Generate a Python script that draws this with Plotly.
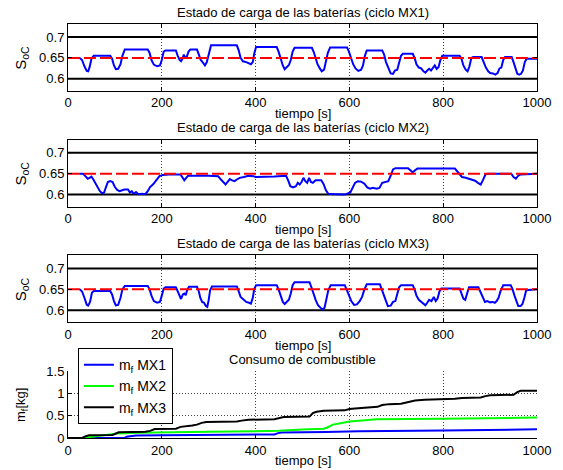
import plotly.graph_objects as go

# ---------------- data ----------------
t_mx1 = [25, 30, 35, 40, 43, 46, 50, 55, 90, 94, 98, 102, 107, 112, 116, 121, 170, 174, 178, 183, 190, 196, 200, 204, 208,
         230, 234, 238, 241, 244, 247, 250, 253, 257, 261, 275, 279, 283, 287, 292, 296, 300, 305, 360, 364, 368, 373, 380,
         385, 390, 394, 397, 401, 445, 449, 453, 458, 462, 466, 471, 475, 479, 483, 520, 524, 528, 532, 537, 541, 546, 550,
         554, 559, 595, 599, 603, 608, 613, 619, 625, 629, 633, 637, 670, 674, 678, 683, 688, 693, 697, 702, 706, 710, 714,
         735, 739, 743, 748, 753, 758, 762, 766, 770, 774, 778, 782, 786, 790, 794, 798, 835, 839, 843, 848, 852, 856, 860,
         864, 882, 886, 891, 896, 900, 906, 911, 916, 920, 924, 928, 932, 946, 950, 954, 958, 962, 966, 970, 974, 978, 1000]
soc_mx1 = [0.650, 0.645, 0.630, 0.619, 0.618, 0.628, 0.648, 0.655, 0.655, 0.648, 0.632, 0.623, 0.624, 0.635, 0.655, 0.670,
           0.670, 0.662, 0.645, 0.634, 0.630, 0.632, 0.645, 0.665, 0.668, 0.668, 0.655, 0.645, 0.642, 0.648, 0.658, 0.650,
           0.652, 0.665, 0.670, 0.670, 0.658, 0.645, 0.640, 0.632, 0.640, 0.660, 0.680, 0.680, 0.668, 0.650, 0.642, 0.640,
           0.638, 0.635, 0.640, 0.660, 0.676, 0.676, 0.665, 0.648, 0.632, 0.623, 0.628, 0.633, 0.645, 0.665, 0.674, 0.674,
           0.664, 0.650, 0.635, 0.625, 0.618, 0.622, 0.640, 0.662, 0.675, 0.675, 0.665, 0.650, 0.635, 0.625, 0.619, 0.622,
           0.632, 0.655, 0.668, 0.668, 0.658, 0.640, 0.625, 0.613, 0.612, 0.620, 0.622, 0.638, 0.655, 0.660, 0.660, 0.650,
           0.635, 0.627, 0.625, 0.618, 0.615, 0.620, 0.624, 0.620, 0.627, 0.632, 0.624, 0.628, 0.645, 0.655, 0.655, 0.648,
           0.632, 0.622, 0.618, 0.630, 0.650, 0.652, 0.652, 0.640, 0.627, 0.618, 0.614, 0.613, 0.610, 0.614, 0.625, 0.627,
           0.645, 0.652, 0.652, 0.640, 0.625, 0.612, 0.610, 0.612, 0.620, 0.640, 0.648, 0.648]

t_mx2 = [25, 32, 38, 42, 46, 50, 54, 58, 63, 68, 73, 77, 81, 85, 90, 95, 100, 105, 110, 115, 120, 128, 132, 136, 140, 145,
         150, 158, 165, 170, 175, 182, 188, 195, 202, 215, 240, 244, 248, 252, 256, 300, 320, 326, 332, 336, 340, 345, 350,
         355, 360, 366, 375, 385, 395, 400, 440, 465, 470, 474, 480, 486, 490, 494, 498, 502, 506, 510, 514, 518, 522, 528,
         540, 545, 550, 555, 570, 590, 602, 607, 612, 618, 625, 632, 638, 644, 650, 658, 664, 670, 676, 683, 688, 693, 698,
         725, 730, 735, 740, 745, 825, 830, 835, 840, 848, 855, 862, 868, 874, 880, 885, 890, 895, 945, 950, 955, 960, 965,
         1000]
soc_mx2 = [0.650, 0.650, 0.643, 0.638, 0.640, 0.643, 0.636, 0.628, 0.618, 0.608, 0.603, 0.605, 0.618, 0.630, 0.632, 0.630,
           0.618, 0.611, 0.608, 0.610, 0.612, 0.612, 0.605, 0.608, 0.602, 0.606, 0.601, 0.602, 0.601, 0.608, 0.618, 0.625,
           0.635, 0.644, 0.647, 0.648, 0.648, 0.640, 0.634, 0.640, 0.645, 0.645, 0.644, 0.636, 0.627, 0.624, 0.630, 0.637,
           0.634, 0.632, 0.636, 0.640, 0.642, 0.645, 0.644, 0.642, 0.643, 0.645, 0.632, 0.620, 0.617, 0.620, 0.628, 0.624,
           0.630, 0.640, 0.632, 0.628, 0.640, 0.630, 0.628, 0.634, 0.634, 0.625, 0.610, 0.602, 0.601, 0.600, 0.605, 0.615,
           0.628, 0.632, 0.631, 0.626, 0.617, 0.614, 0.616, 0.614, 0.616, 0.628, 0.630, 0.632, 0.645, 0.660, 0.663, 0.663,
           0.658, 0.653, 0.658, 0.662, 0.662, 0.655, 0.648, 0.642, 0.640, 0.638, 0.636, 0.633, 0.628, 0.624, 0.635, 0.648,
           0.650, 0.650, 0.642, 0.638, 0.645, 0.648, 0.650]

t_mx3 = [25, 30, 35, 40, 43, 47, 51, 55, 90, 94, 98, 102, 107, 112, 116, 121, 170, 174, 178, 183, 190, 196, 200, 204, 208,
         230, 234, 238, 241, 245, 248, 251, 254, 258, 275, 279, 282, 286, 290, 294, 297, 300, 303, 307, 360, 364, 368, 373,
         380, 386, 390, 394, 397, 401, 445, 449, 453, 458, 462, 466, 471, 475, 479, 483, 515, 519, 523, 528, 533, 538, 542,
         547, 551, 555, 560, 590, 594, 599, 604, 610, 616, 622, 627, 632, 637, 665, 669, 673, 678, 682, 688, 693, 698, 702,
         706, 710, 735, 739, 743, 748, 753, 758, 762, 766, 770, 775, 780, 784, 788, 792, 796, 835, 839, 843, 847, 851, 855,
         875, 879, 884, 889, 894, 900, 905, 910, 914, 918, 922, 928, 944, 948, 952, 956, 960, 965, 969, 973, 977, 1000]
soc_mx3 = [0.650, 0.645, 0.630, 0.613, 0.611, 0.620, 0.642, 0.646, 0.646, 0.638, 0.622, 0.612, 0.613, 0.630, 0.650, 0.658,
           0.658, 0.650, 0.635, 0.622, 0.618, 0.620, 0.635, 0.652, 0.655, 0.655, 0.645, 0.632, 0.627, 0.638, 0.640, 0.636,
           0.648, 0.656, 0.656, 0.645, 0.630, 0.620, 0.618, 0.610, 0.608, 0.625, 0.648, 0.657, 0.657, 0.645, 0.632, 0.627,
           0.620, 0.618, 0.616, 0.630, 0.650, 0.660, 0.660, 0.650, 0.635, 0.620, 0.615, 0.620, 0.625, 0.640, 0.660, 0.667,
           0.667, 0.655, 0.640, 0.625, 0.612, 0.605, 0.602, 0.606, 0.625, 0.648, 0.660, 0.660, 0.650, 0.635, 0.622, 0.613,
           0.614, 0.622, 0.632, 0.650, 0.662, 0.662, 0.650, 0.635, 0.620, 0.610, 0.611, 0.620, 0.622, 0.638, 0.655, 0.660,
           0.660, 0.650, 0.635, 0.625, 0.620, 0.615, 0.612, 0.618, 0.625, 0.622, 0.632, 0.622, 0.628, 0.645, 0.652, 0.652,
           0.640, 0.628, 0.625, 0.640, 0.655, 0.655, 0.645, 0.630, 0.620, 0.622, 0.619, 0.620, 0.618, 0.622, 0.630, 0.645,
           0.660, 0.660, 0.650, 0.635, 0.620, 0.610, 0.610, 0.615, 0.630, 0.648, 0.650]

soc_lower, soc_target, soc_upper = 0.6, 0.65, 0.7
t_span = [0, 1000]

t_f1 = [0, 120, 125, 135, 145, 200, 300, 440, 448, 455, 550, 620, 800, 1000]
mf_mx1 = [0, 0, 0.03, 0.045, 0.055, 0.06, 0.07, 0.08, 0.11, 0.125, 0.135, 0.15, 0.17, 0.195]

t_f2 = [0, 38, 45, 60, 72, 95, 105, 150, 200, 300, 400, 450, 500, 545, 552, 565, 581, 600, 634, 657, 800, 900, 1000]
mf_mx2 = [0, 0, 0.02, 0.04, 0.06, 0.08, 0.1, 0.12, 0.13, 0.14, 0.15, 0.16, 0.19, 0.21, 0.23, 0.3, 0.33, 0.37, 0.40, 0.42,
          0.43, 0.45, 0.46]

t_f3 = [0, 30, 38, 45, 95, 102, 108, 165, 175, 185, 230, 240, 255, 265, 275, 285, 295, 360, 370, 385, 440, 450, 460, 515,
        522, 530, 545, 590, 600, 612, 650, 660, 670, 685, 710, 725, 740, 760, 800, 825, 840, 880, 890, 900, 950, 958, 965, 1000]
mf_mx3 = [0, 0, 0.04, 0.06, 0.07, 0.11, 0.13, 0.14, 0.16, 0.2, 0.21, 0.25, 0.26, 0.28, 0.3, 0.34, 0.36, 0.37, 0.39, 0.41,
          0.42, 0.44, 0.47, 0.48, 0.56, 0.59, 0.61, 0.62, 0.65, 0.66, 0.68, 0.7, 0.74, 0.76, 0.77, 0.8, 0.84, 0.86, 0.87,
          0.88, 0.9, 0.91, 0.94, 0.96, 0.97, 1.03, 1.06, 1.06]

titles = ["Estado de carga de las baterías (ciclo MX1)",
          "Estado de carga de las baterías (ciclo MX2)",
          "Estado de carga de las baterías (ciclo MX3)",
          "Consumo de combustible"]
x_label = "tiempo [s]"
soc_label = "S<sub>oC</sub>"
mf_label = "m<sub>f</sub>[kg]"
legend_names = ["m<sub>f</sub> MX1", "m<sub>f</sub> MX2", "m<sub>f</sub> MX3"]
x_ticks = [0, 200, 400, 600, 800, 1000]
soc_ticks = [0.6, 0.65, 0.7]
soc_tick_text = ["0.6", "0.65", "0.7"]
mf_ticks = [0, 0.5, 1, 1.5]
mf_tick_text = ["0", "0.5", "1", "1.5"]

# ---------------- layout geometry ----------------
W, H = 563, 470
ML, MR, MT, MB = 68, 22, 24, 31
PH = H - MT - MB
box_px = [(24, 91), (140, 207), (256, 323), (372, 439)]


def py2paper(py):
    return (H - MB - py) / PH


FONT = "Liberation Sans, Arial, Helvetica, sans-serif"
fig = go.Figure()

soc_sets = [(t_mx1, soc_mx1), (t_mx2, soc_mx2), (t_mx3, soc_mx3)]
for i, (tt, ss) in enumerate(soc_sets):
    xa, ya = f"x{i+1}" if i else "x", f"y{i+1}" if i else "y"
    for lvl in (soc_upper, soc_lower):
        fig.add_trace(go.Scatter(x=t_span, y=[lvl, lvl], mode="lines", xaxis=xa, yaxis=ya,
                                 line=dict(color="black", width=2), showlegend=False, hoverinfo="skip"))
    fig.add_trace(go.Scatter(x=tt, y=ss, mode="lines", xaxis=xa, yaxis=ya,
                             line=dict(color="#0000ff", width=2), showlegend=False))
    fig.add_trace(go.Scatter(x=t_span, y=[soc_target, soc_target], mode="lines", xaxis=xa, yaxis=ya,
                             line=dict(color="#ff0000", width=2, dash="12px,4px"), showlegend=False,
                             hoverinfo="skip"))

fuel_sets = [(t_f1, mf_mx1, "#0000ff"), (t_f2, mf_mx2, "#00ff00"), (t_f3, mf_mx3, "#000000")]
for (tt, mm, col), nm in zip(fuel_sets, legend_names):
    fig.add_trace(go.Scatter(x=tt, y=mm, mode="lines", xaxis="x4", yaxis="y4", name=nm,
                             line=dict(color=col, width=2)))

layout = dict(
    width=W, height=H,
    margin=dict(l=ML, r=MR, t=MT, b=MB, pad=0),
    paper_bgcolor="white", plot_bgcolor="white",
    font=dict(family=FONT, size=13, color="black"),
    showlegend=True,
    legend=dict(x=(78 - ML) / (W - ML - MR), y=py2paper(349), xanchor="left", yanchor="top",
                bgcolor="white", bordercolor="black", borderwidth=1,
                font=dict(family=FONT, size=14, color="black"),
                tracegroupgap=0),
)

annotations = []
for i in range(4):
    top, bot = box_px[i]
    sfx = str(i + 1) if i else ""
    is_fuel = i == 3
    layout["xaxis" + sfx] = dict(
        domain=[0, 1], anchor="y" + sfx, range=[0, 1000], tickvals=x_ticks,
        ticks="inside", ticklen=4, tickcolor="black", showline=True, linecolor="black", linewidth=1,
        mirror=(False if is_fuel else "ticks"), showgrid=True, gridcolor="#444444", griddash="1px,2px",
        gridwidth=1, zeroline=False, tickfont=dict(size=13), fixedrange=True,
    )
    layout["yaxis" + sfx] = dict(
        domain=[py2paper(bot), py2paper(top)], anchor="x" + sfx,
        range=([0, 1.5] if is_fuel else [0.5714, 0.731]),
        tickvals=(mf_ticks if is_fuel else soc_ticks),
        ticktext=(mf_tick_text if is_fuel else soc_tick_text),
        ticks="inside", ticklen=4, tickcolor="black", showline=True, linecolor="black", linewidth=1,
        mirror=(False if is_fuel else "ticks"), showgrid=is_fuel, gridcolor="#444444", griddash="1px,2px",
        gridwidth=1, zeroline=False, tickfont=dict(size=13), fixedrange=True,
    )
    # title
    annotations.append(dict(text=titles[i], xref="paper", yref="paper", x=0.5, y=py2paper(top - 12),
                            xanchor="center", yanchor="middle", showarrow=False,
                            font=dict(family=FONT, size=13, color="black")))
    # x label
    annotations.append(dict(text=x_label, xref="paper", yref="paper", x=0.5, y=py2paper(bot + 23),
                            xanchor="center", yanchor="middle", showarrow=False,
                            font=dict(family=FONT, size=13, color="black")))
    # y label
    annotations.append(dict(text=(mf_label if is_fuel else soc_label), xref="paper", yref="paper",
                            x=(21 - ML) / (W - ML - MR), y=py2paper((top + bot) / 2),
                            xanchor="center", yanchor="middle", textangle=-90, showarrow=False,
                            font=dict(family=FONT, size=(13 if is_fuel else 15), color="black")))

layout["annotations"] = annotations
fig.update_layout(**layout)
fig.write_html("out.html")
